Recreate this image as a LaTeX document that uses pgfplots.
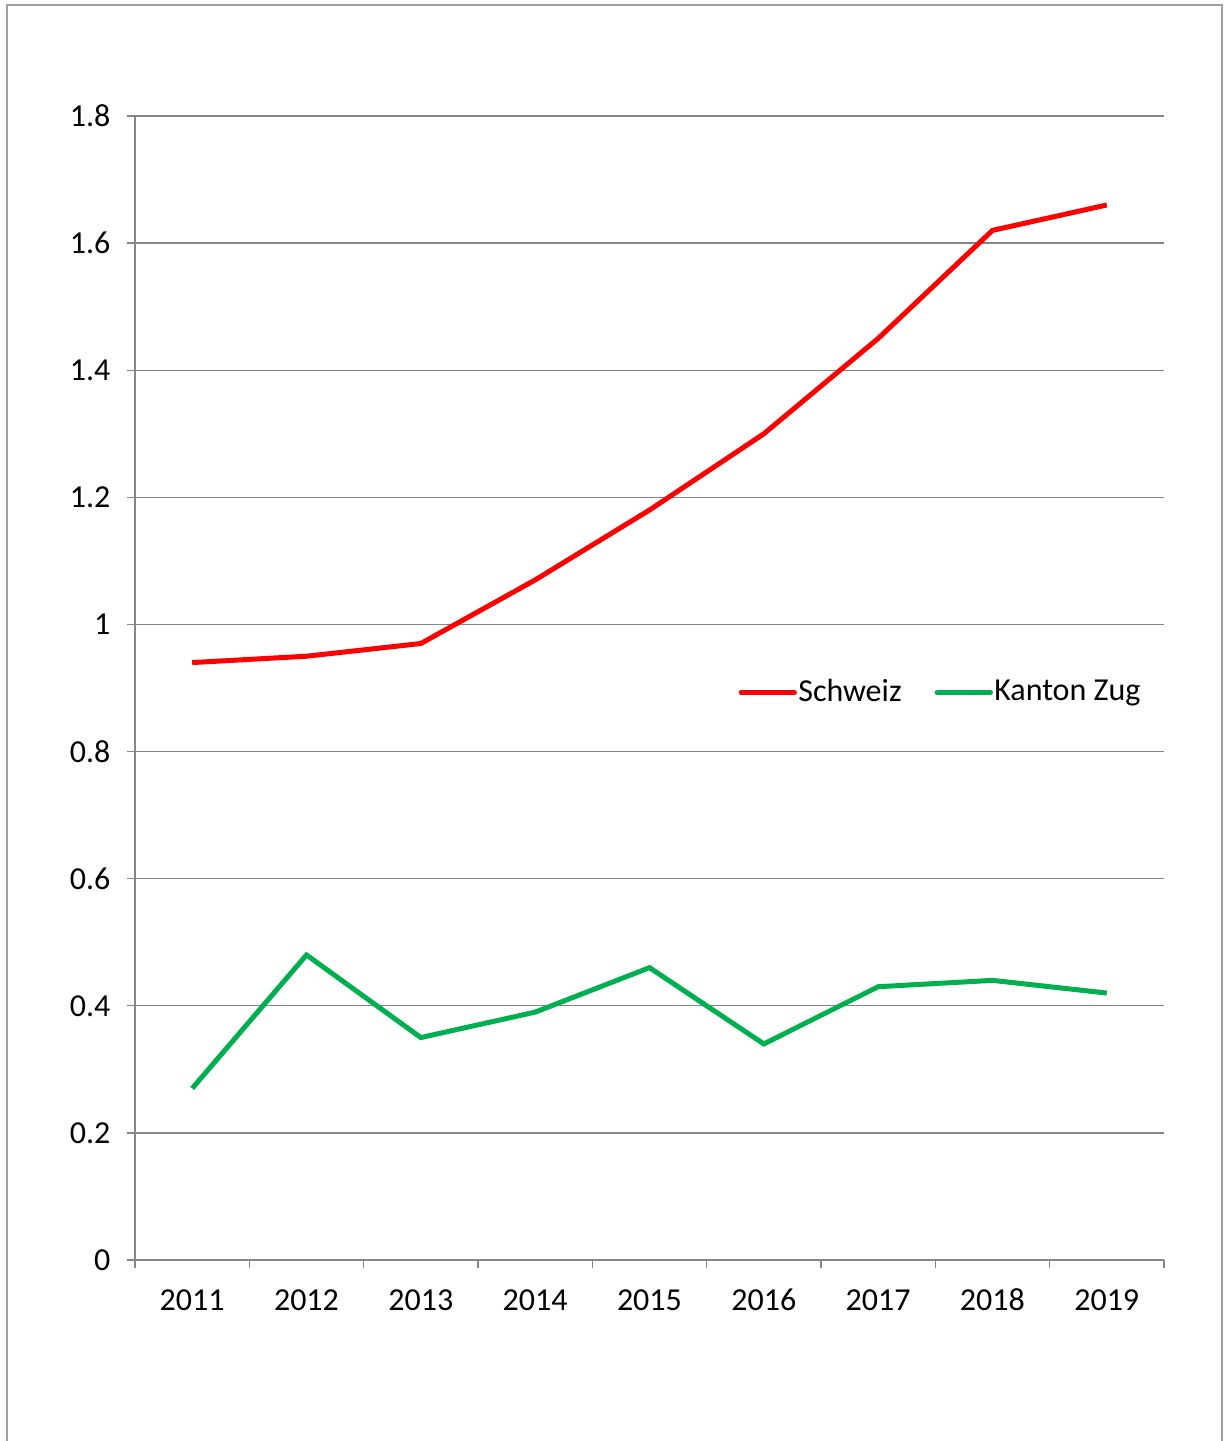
\documentclass[border=0pt]{standalone}
\usepackage{fontspec}
\setmainfont{Carlito}
\usepackage{pgfplots}
\pgfplotsset{compat=1.18}

\definecolor{chred}{HTML}{FF0000}
\definecolor{chgreen}{HTML}{00B050}
\definecolor{gridgray}{HTML}{868686}
\definecolor{framegray}{HTML}{A0A0A0}

\pgfplotstableread{
year schweiz zug
2011 0.94 0.27
2012 0.95 0.48
2013 0.97 0.35
2014 1.07 0.39
2015 1.18 0.46
2016 1.30 0.34
2017 1.45 0.43
2018 1.62 0.44
2019 1.66 0.42
}\datatable

\begin{document}
\fontsize{9.6}{11.5}\selectfont
\begin{tikzpicture}
% picture = 1230 x 1441 px, 1 px = 0.3pt
\useasboundingbox (0,0) rectangle (369pt,-432.3pt);
\draw[framegray, line width=0.6pt] (2.1pt,-440pt) -- (2.1pt,-1.5pt) -- (366.6pt,-1.5pt) -- (366.6pt,-440pt);

\begin{axis}[
    at={(40.5pt,-378pt)}, anchor=south west,
    scale only axis,
    width=308.7pt, height=343.2pt,
    xmin=2010.5, xmax=2019.5,
    ymin=0, ymax=1.8,
    axis x line=bottom, axis y line=left,
    axis line style={gridgray, line width=0.4pt, -},
    xtick={2011,...,2019},
    xticklabels={2011,2012,2013,2014,2015,2016,2017,2018,2019},
    minor xtick={2010.5,2011.5,...,2019.5},
    ytick={0,0.2,...,1.8},
    tick align=outside,
    major tick length=2.4pt,
    minor tick length=2.4pt,
    x tick style={draw=none},
    minor x tick style={draw=gridgray, line width=0.4pt},
    y tick style={draw=gridgray, line width=0.4pt},
    ymajorgrids,
    grid style={gridgray, line width=0.4pt},
    /pgf/number format/assume math mode=true,
    xticklabel style={yshift=-3.2pt, text height=6pt, text depth=0pt, font=\fontsize{9.6}{11.5}\selectfont},
    yticklabel style={xshift=-1.6pt, font=\fontsize{9.6}{11.5}\selectfont},
    legend style={draw=none, fill=none, at={(0.586,0.496)}, anchor=west,
        inner sep=0pt, font=\fontsize{9.6}{11.5}\selectfont,
        nodes={inner sep=0.4pt},
        /tikz/every even column/.append style={column sep=9.5pt}},
    legend columns=2,
    legend image code/.code={\draw[#1, line cap=round] (0pt,0pt) -- (16pt,0pt);},
]
\addplot[chred, line width=1.5pt] table[x=year, y=schweiz] {\datatable};
\addlegendentry{Schweiz}
\addplot[chgreen, line width=1.5pt] table[x=year, y=zug] {\datatable};
\addlegendentry{Kanton Zug}
\end{axis}
\end{tikzpicture}
\end{document}
